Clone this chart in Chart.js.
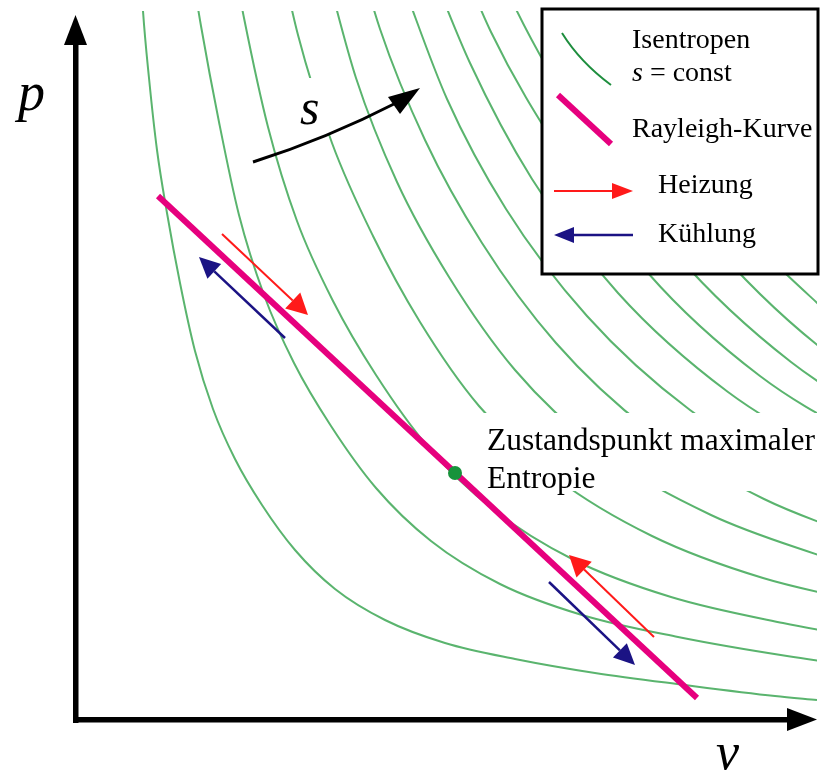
<!DOCTYPE html>
<html>
<head>
<meta charset="utf-8">
<script src="https://cdn.jsdelivr.net/npm/chart.js@4.4.1/dist/chart.umd.min.js"></script>
<style>
  html, body { margin: 0; padding: 0; background: #fff; }
  canvas { display: block; }
</style>
</head>
<body>
<canvas id="pv" width="825" height="771"></canvas>
<script>
const s1 = [[65, 760], [68, 707], [74, 640], [82, 568], [92, 505], [105, 435], [120, 367], [138, 309], [160, 259], [187, 213], [220, 168], [260, 129], [310, 98], [370, 75], [440, 59], [520, 45], [610, 33], [700, 22], [742, 18]];
const s2 = [[112, 778], [126, 692], [144, 596], [164, 503], [189, 423], [219, 355], [256, 292], [301, 230], [356, 177], [425, 134], [507, 103], [603, 81], [712, 62], [836, 45]];
const s3 = [[148, 813], [169, 700], [193, 591], [222, 497], [258, 417], [301, 343], [354, 270], [419, 208], [499, 158], [596, 121], [708, 95], [837, 72]];
const s4 = [[195, 809], [223, 683], [257, 575], [298, 482], [345, 396], [404, 312], [481, 240], [577, 182], [688, 140], [818, 110]];
const s5 = [[248, 760], [281, 640], [322, 536], [374, 441], [440, 348], [526, 267], [636, 203], [766, 155]];
const s6 = [[268, 818], [305, 689], [350, 578], [407, 475], [481, 375], [574, 288], [689, 219], [825, 167]];
const s7 = [[326, 739], [372, 619], [431, 509], [512, 402], [615, 308], [741, 234], [884, 179]];
const s8 = [[343, 782], [395, 655], [457, 539], [543, 425], [653, 326], [784, 248]];
const s9 = [[361, 819], [416, 686], [486, 564], [573, 445], [685, 342], [822, 260]];
const s10 = [[381, 853], [438, 715], [510, 588], [601, 464], [716, 356], [856, 270]];
const s11 = [[459, 743], [537, 611], [631, 482], [746, 370], [890, 281]];
const s12 = [[477, 772], [557, 635], [656, 501], [775, 384]];

// Rayleigh-Kurve und Zustandspunkt maximaler Entropie
const rayleigh = [[83, 522], [622, 20]];
const maxEntropie = [380, 245];

// Pfeile entlang der Rayleigh-Kurve: [v0, p0, v1, p1]
const heizung = [[147, 484, 233, 403], [579, 81, 494, 163]];
const kuehlung = [[210, 380, 124, 461], [474, 136, 560, 53]];

const isentropen = [s1, s2, s3, s4, s5, s6, s7, s8, s9, s10, s11, s12];

const GREEN = '#5ab46e';
const MAGENTA = '#e6007e';
const RED = '#ff1a1a';
const BLUE = '#1b1384';
const serif = '"Liberation Serif", "Times New Roman", serif';

const pts = arr => arr.map(([v, p]) => ({ x: v, y: p }));

function arrow(ctx, x1, y1, x2, y2, color, lw, len, half) {
    const a = Math.atan2(y2 - y1, x2 - x1);
    const bx = x2 - len * Math.cos(a), by = y2 - len * Math.sin(a);
    ctx.strokeStyle = color;
    ctx.fillStyle = color;
    ctx.lineWidth = lw;
    ctx.beginPath();
    ctx.moveTo(x1, y1);
    ctx.lineTo(bx, by);
    ctx.stroke();
    ctx.beginPath();
    ctx.moveTo(x2, y2);
    ctx.lineTo(bx + half * Math.sin(a), by - half * Math.cos(a));
    ctx.lineTo(bx - half * Math.sin(a), by + half * Math.cos(a));
    ctx.closePath();
    ctx.fill();
}

const overlay = {
    id: 'overlay',
    afterDatasetsDraw(chart) {
        const { ctx, chartArea: area, scales: { x, y } } = chart;
        const px = v => x.getPixelForValue(v), py = p => y.getPixelForValue(p);
        ctx.save();

        // freigestellte Flächen hinter den Beschriftungen
        ctx.fillStyle = '#fff';
        ctx.fillRect(295, 78, 50, 57);
        ctx.fillRect(482, 413, 343, 78);

        // Pfeile Heizung / Kühlung
        heizung.forEach(h => arrow(ctx, px(h[0]), py(h[1]), px(h[2]), py(h[3]), RED, 2, 21, 11));
        kuehlung.forEach(k => arrow(ctx, px(k[0]), py(k[1]), px(k[2]), py(k[3]), BLUE, 2.5, 21, 10));

        // Entropie-Pfeil s
        ctx.strokeStyle = '#000';
        ctx.fillStyle = '#000';
        ctx.lineWidth = 3;
        ctx.beginPath();
        ctx.moveTo(253, 162);
        ctx.quadraticCurveTo(326, 139, 398, 102);
        ctx.stroke();
        ctx.beginPath();
        ctx.moveTo(420, 88);
        ctx.lineTo(388, 97);
        ctx.lineTo(400, 114);
        ctx.closePath();
        ctx.fill();

        // Texte
        ctx.textBaseline = 'alphabetic';
        ctx.font = `italic 50px ${serif}`;
        ctx.fillText('s', 300, 124);
        ctx.font = `italic 54px ${serif}`;
        ctx.fillText('p', 18, 110);
        ctx.font = `italic 52px ${serif}`;
        ctx.fillText('v', 716, 769);
        ctx.font = `31.5px ${serif}`;
        ctx.fillText('Zustandspunkt maximaler', 487, 450);
        ctx.fillText('Entropie', 487, 488);

        // Legende
        ctx.fillStyle = '#fff';
        ctx.fillRect(542, 9, 276, 265);
        ctx.strokeStyle = '#000';
        ctx.lineWidth = 3;
        ctx.strokeRect(542, 9, 276, 265);

        ctx.strokeStyle = '#1e8e3e';
        ctx.lineWidth = 2;
        ctx.beginPath();
        ctx.moveTo(562, 33);
        ctx.quadraticCurveTo(580, 62, 611, 85);
        ctx.stroke();

        ctx.strokeStyle = MAGENTA;
        ctx.lineWidth = 6;
        ctx.beginPath();
        ctx.moveTo(558, 95);
        ctx.lineTo(611, 144);
        ctx.stroke();

        arrow(ctx, 554, 191, 633, 191, RED, 2, 21, 8);
        arrow(ctx, 633, 235, 554, 235, BLUE, 2.5, 20, 8);

        ctx.fillStyle = '#000';
        ctx.font = `28px ${serif}`;
        ctx.fillText('Isentropen', 632, 48);
        ctx.font = `italic 28px ${serif}`;
        ctx.fillText('s', 632, 81);
        const sw = ctx.measureText('s').width;
        ctx.font = `28px ${serif}`;
        ctx.fillText(' = const', 632 + sw, 81);
        ctx.fillText('Rayleigh-Kurve', 632, 137);
        ctx.fillText('Heizung', 658, 193);
        ctx.fillText('Kühlung', 658, 242);

        // Achsen mit Pfeilspitzen
        ctx.fillStyle = '#000';
        ctx.fillRect(area.left - 2, area.top + 31, 5.5, area.bottom - area.top - 26);
        ctx.beginPath();
        ctx.moveTo(area.left + 0.5, area.top + 4);
        ctx.lineTo(area.left - 11, area.top + 34);
        ctx.lineTo(area.left + 12, area.top + 34);
        ctx.closePath();
        ctx.fill();
        ctx.fillRect(area.left - 2, area.bottom - 1, area.right - area.left - 26, 5.5);
        ctx.beginPath();
        ctx.moveTo(area.right, area.bottom + 1.5);
        ctx.lineTo(area.right - 30, area.bottom - 10);
        ctx.lineTo(area.right - 30, area.bottom + 13);
        ctx.closePath();
        ctx.fill();

        ctx.restore();
    }
};

const datasets = [
    {
        data: [{ x: maxEntropie[0], y: maxEntropie[1] }],
        showLine: false,
        pointRadius: 7,
        pointBackgroundColor: '#17933b',
        pointBorderWidth: 0,
        order: 0
    },
    {
        data: pts(rayleigh),
        borderColor: MAGENTA,
        borderWidth: 6,
        borderCapStyle: 'butt',
        pointRadius: 0,
        order: 1
    },
    ...isentropen.map(s => ({
        data: pts(s),
        borderColor: GREEN,
        borderWidth: 2,
        pointRadius: 0,
        cubicInterpolationMode: 'monotone',
        order: 2
    }))
];

new Chart(document.getElementById('pv'), {
    type: 'line',
    data: { datasets },
    options: {
        responsive: false,
        animation: false,
        events: [],
        layout: { padding: { left: 75, right: 8, top: 11, bottom: 53 } },
        scales: {
            x: { type: 'linear', min: 0, max: 742, display: false },
            y: { type: 'linear', min: 0, max: 707, display: false }
        },
        plugins: { legend: { display: false }, tooltip: { enabled: false } }
    },
    plugins: [overlay]
});
</script>
</body>
</html>
